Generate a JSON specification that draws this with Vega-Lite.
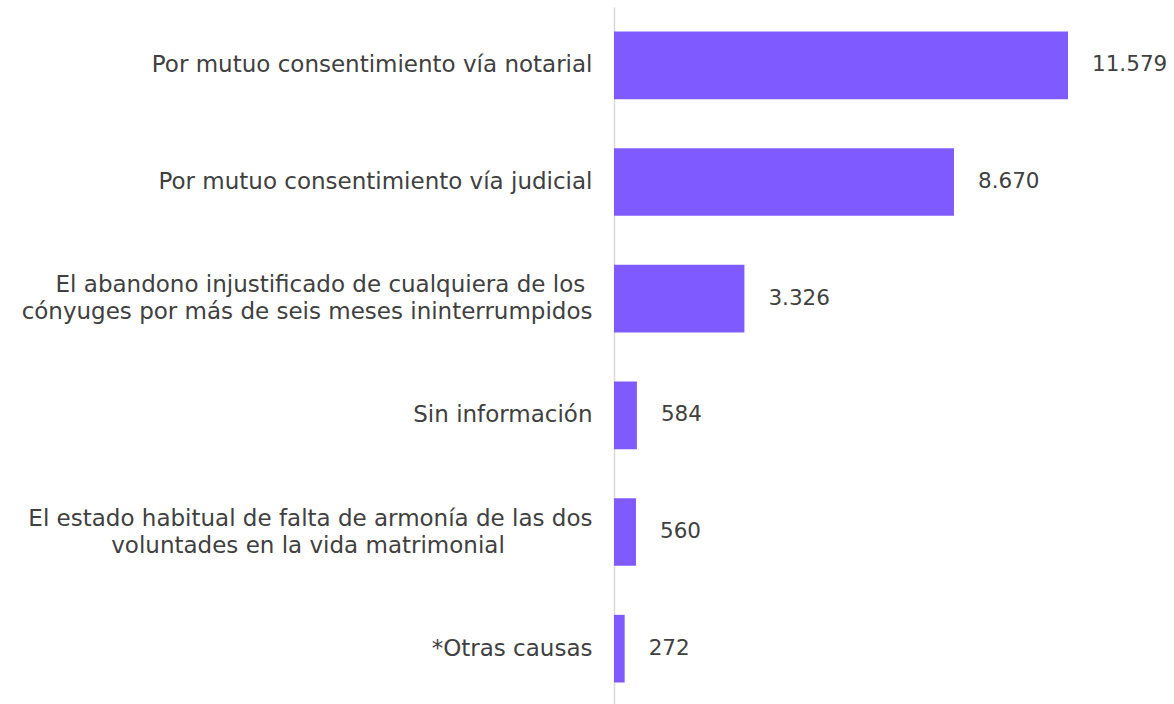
{
  "$schema": "https://vega.github.io/schema/vega-lite/v6.json",
  "autosize": "none",
  "width": 560,
  "height": 700,
  "padding": {"left": 614, "top": 7, "right": 0, "bottom": 0},
  "background": "white",
  "data": {
    "values": [
      {"causa": "Por mutuo consentimiento vía notarial", "valor": 11579},
      {"causa": "Por mutuo consentimiento vía judicial", "valor": 8670},
      {"causa": "El abandono injustificado de cualquiera de los\u00a0\u200b|cónyuges por más de seis meses ininterrumpidos", "valor": 3326},
      {"causa": "Sin información", "valor": 584},
      {"causa": "El estado habitual de falta de armonía de las dos|voluntades en la vida matrimonial\u00a0\u00a0\u00a0\u00a0\u00a0\u00a0\u00a0\u00a0\u00a0\u00a0\u00a0\u00a0\u200b", "valor": 560},
      {"causa": "*Otras causas", "valor": 272}
    ]
  },
  "encoding": {
    "y": {
      "field": "causa",
      "type": "nominal",
      "sort": {"field": "valor", "order": "descending"},
      "scale": {"paddingInner": 0.42, "paddingOuter": 0.21},
      "axis": {
        "title": null,
        "ticks": false,
        "domain": true,
        "domainColor": "#d9d9d9",
        "domainWidth": 1.5,
        "labelPadding": 22,
        "labelFont": "DejaVu Sans",
        "labelFontSize": 23,
        "labelColor": "#404040",
        "labelLimit": 700,
        "labelLineHeight": 27,
        "labelOffset": {"condition": {"test": "indexof(datum.value, '|') >= 0", "value": -13.5}, "value": 0},
        "labelExpr": "split(datum.label, '|')"
      }
    },
    "x": {
      "field": "valor",
      "type": "quantitative",
      "scale": {"domain": [0, 14282]},
      "axis": null
    }
  },
  "layer": [
    {"mark": {"type": "bar", "color": "#7F5AFF"}},
    {
      "mark": {"type": "text", "align": "left", "baseline": "middle", "dx": 24, "font": "DejaVu Sans", "fontSize": 21.5, "color": "#404040"},
      "encoding": {"text": {"field": "valor", "type": "quantitative", "format": ",d"}}
    }
  ],
  "config": {
    "view": {"stroke": null},
    "locale": {"number": {"decimal": ",", "thousands": ".", "grouping": [3], "currency": ["", " €"]}}
  }
}
